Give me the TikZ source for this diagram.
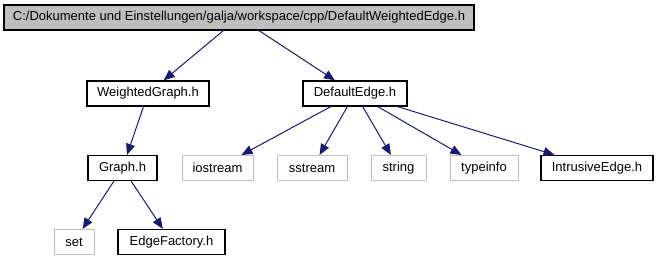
\documentclass[tikz,border=0pt]{standalone}
\usepackage{fontspec}
\setmainfont{Liberation Sans}
\usetikzlibrary{arrows.meta}
\definecolor{edgeblue}{RGB}{25,25,112}
\definecolor{rootfill}{RGB}{191,191,191}
\definecolor{sysgray}{RGB}{191,191,191}
\tikzset{
  filebox/.style={draw=black, line width=1.2pt, fill=white, inner sep=0pt,
    minimum height=25pt, font=\fontsize{13pt}{15pt}\selectfont},
  sysbox/.style={filebox, draw=sysgray, line width=1pt},
  rootbox/.style={filebox, fill=rootfill},
  dep/.style={draw=edgeblue, line width=1pt,
    -{Triangle[length=11pt,width=9pt]}}
}
\begin{document}
\begin{tikzpicture}[x=1pt,y=-1pt]
\useasboundingbox (0,0) rectangle (657,261);
\node[rootbox, minimum width=470pt] (root) at (239,17.5) {C:/Dokumente und Einstellungen/galja/workspace/cpp/DefaultWeightedEdge.h};
\node[filebox, minimum width=122pt] (wg) at (148,93.5) {WeightedGraph.h};
\node[filebox, minimum width=104pt] (de) at (355,93.5) {DefaultEdge.h};
\node[filebox, minimum width=69pt] (graph) at (122.5,168) {Graph.h};
\node[sysbox, minimum width=71pt] (ios) at (217.5,168) {iostream};
\node[sysbox, minimum width=70pt] (sst) at (312,168) {sstream};
\node[sysbox, minimum width=55pt] (str) at (398.5,168) {string};
\node[sysbox, minimum width=68pt] (ti) at (484,168) {typeinfo};
\node[filebox, minimum width=112pt] (ie) at (597,168) {IntrusiveEdge.h};
\node[sysbox, minimum width=40pt] (set) at (74,242) {set};
\node[filebox, minimum width=107pt] (ef) at (171.5,242) {EdgeFactory.h};
\draw[dep] (root) -- (wg);
\draw[dep] (root) -- (de);
\draw[dep] (wg) -- (graph);
\draw[dep] (de) -- (ios);
\draw[dep] (de) -- (sst);
\draw[dep] (de) -- (str);
\draw[dep] (de) -- (ti);
\draw[dep] (de) -- (ie);
\draw[dep] (graph) -- (set);
\draw[dep] (graph) -- (ef);
\end{tikzpicture}
\end{document}
